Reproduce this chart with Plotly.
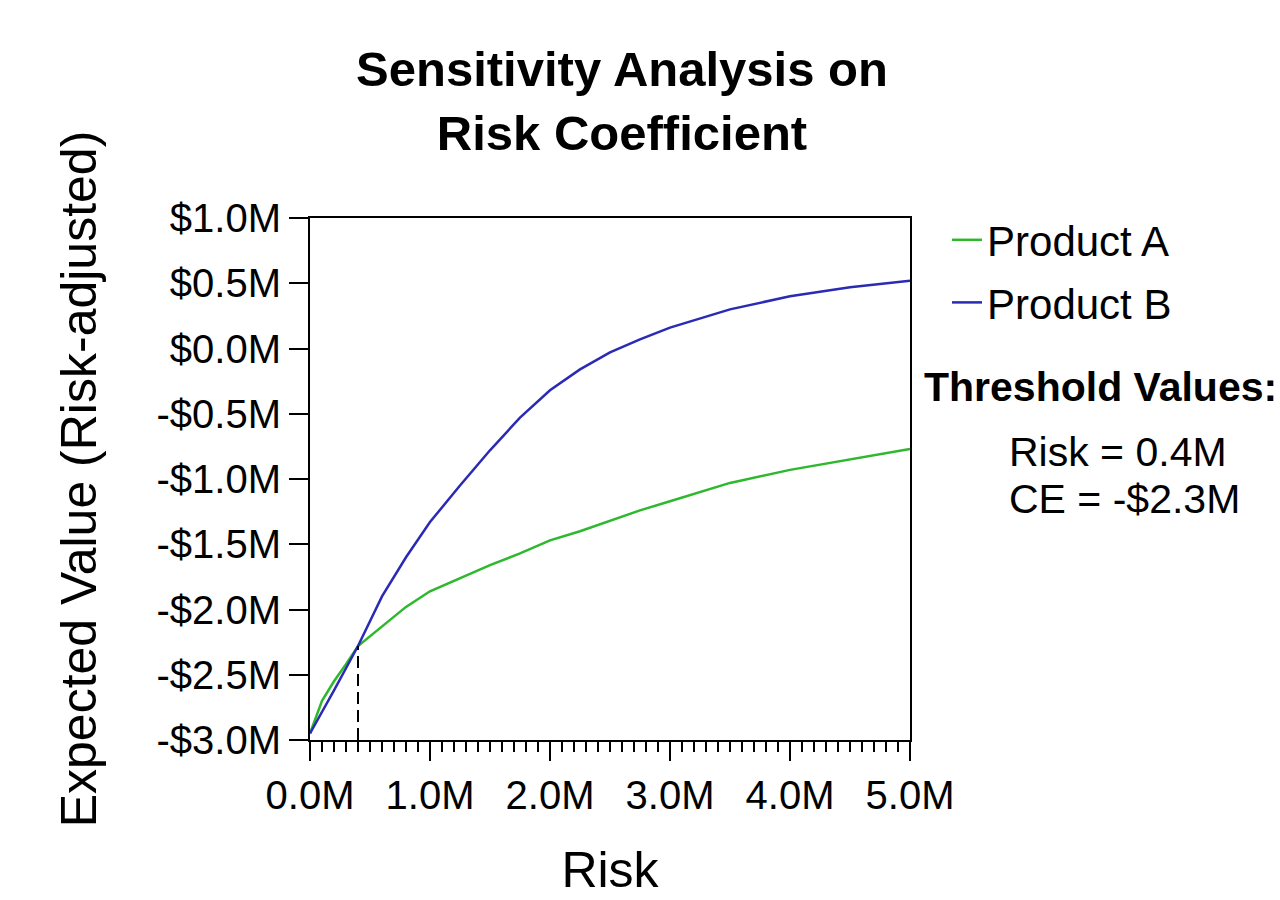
import plotly.graph_objects as go

# Risk (in $M) and risk-adjusted expected values (in $M)
risk = [0.0, 0.1, 0.2, 0.3, 0.4, 0.6, 0.8, 1.0, 1.25, 1.5, 1.75, 2.0, 2.25, 2.5,
        2.75, 3.0, 3.5, 4.0, 4.5, 5.0]
product_a = [-2.95, -2.70, -2.55, -2.42, -2.28, -2.13, -1.98, -1.86, -1.76, -1.66,
             -1.57, -1.47, -1.40, -1.32, -1.24, -1.17, -1.03, -0.93, -0.85, -0.77]
product_b = [-2.95, -2.79, -2.62, -2.45, -2.28, -1.90, -1.60, -1.33, -1.05, -0.78,
             -0.53, -0.32, -0.16, -0.03, 0.07, 0.16, 0.30, 0.40, 0.47, 0.52]

threshold_risk = 0.4
threshold_ce = -2.28

y_ticks = [1.0, 0.5, 0.0, -0.5, -1.0, -1.5, -2.0, -2.5, -3.0]
y_labels = ["$1.0M", "$0.5M", "$0.0M", "-$0.5M", "-$1.0M", "-$1.5M", "-$2.0M",
            "-$2.5M", "-$3.0M"]
x_ticks = [0, 1, 2, 3, 4, 5]
x_labels = ["0.0M", "1.0M", "2.0M", "3.0M", "4.0M", "5.0M"]

GREEN = "#2db82d"
BLUE = "#2a2ab5"
FONT = "Liberation Sans, Arial, sans-serif"

fig = go.Figure()

fig.add_trace(go.Scatter(x=risk, y=product_a, mode="lines", name="Product A",
                         legendgroup="a", line=dict(color=GREEN, width=2.5)))
fig.add_trace(go.Scatter(x=risk, y=product_b, mode="lines", name="Product B",
                         legendgroup="b", line=dict(color=BLUE, width=2.5)))
# dashed drop line at the crossover point
fig.add_trace(go.Scatter(x=[threshold_risk, threshold_risk], y=[-3.0, threshold_ce],
                         mode="lines", showlegend=False,
                         line=dict(color="black", width=2, dash="12px,6px")))

axis_common = dict(showline=True, linecolor="black", linewidth=2, mirror=True,
                   showgrid=False, zeroline=False, ticks="outside",
                   tickcolor="black", tickwidth=2, ticklen=19,
                   tickfont=dict(size=40, color="black"))

fig.update_xaxes(range=[0, 5], tickvals=x_ticks, ticktext=x_labels,
                 minor=dict(dtick=0.1, ticks="outside", ticklen=10,
                            tickcolor="black", tickwidth=2, showgrid=False),
                 title=dict(text="Risk", font=dict(size=50, color="black"), standoff=36),
                 **axis_common)
fig.update_yaxes(range=[-3, 1], tickvals=y_ticks, ticktext=y_labels,
                 title=dict(text="Expected Value (Risk-adjusted)",
                            font=dict(size=50, color="black"), standoff=44),
                 **axis_common)

annotations = [
    dict(text="<b>Threshold Values:</b>", x=1.02, y=0.6756),
    dict(text=f"Risk = {threshold_risk:.1f}M", x=1.1617, y=0.5515),
    dict(text=f"CE = -${abs(threshold_ce):.1f}M", x=1.1617, y=0.4618),
]
for a in annotations:
    a.update(xref="paper", yref="paper", xanchor="left", yanchor="middle",
             showarrow=False, font=dict(size=41, color="black"))

fig.update_layout(
    width=1280, height=900,
    margin=dict(l=310, r=370, t=218, b=158),
    paper_bgcolor="white", plot_bgcolor="white",
    font=dict(family=FONT, color="black"),
    title=dict(text="<b>Sensitivity Analysis on<br>Risk Coefficient</b>",
               x=0.52, xanchor="center", xref="paper",
               y=1 - 86 / 900, yanchor="middle", yref="container",
               font=dict(size=49, color="black")),
    legend=dict(x=1.0617, y=1.023, xanchor="left", yanchor="top",
                font=dict(size=42, color="black"), bgcolor="rgba(0,0,0,0)",
                itemwidth=30, tracegroupgap=5),
    annotations=annotations,
)

# the page's default body margin would shift the figure by 8px
fig.write_html("out.html", config={"displayModeBar": False},
               post_script="document.body.style.margin='0';")
